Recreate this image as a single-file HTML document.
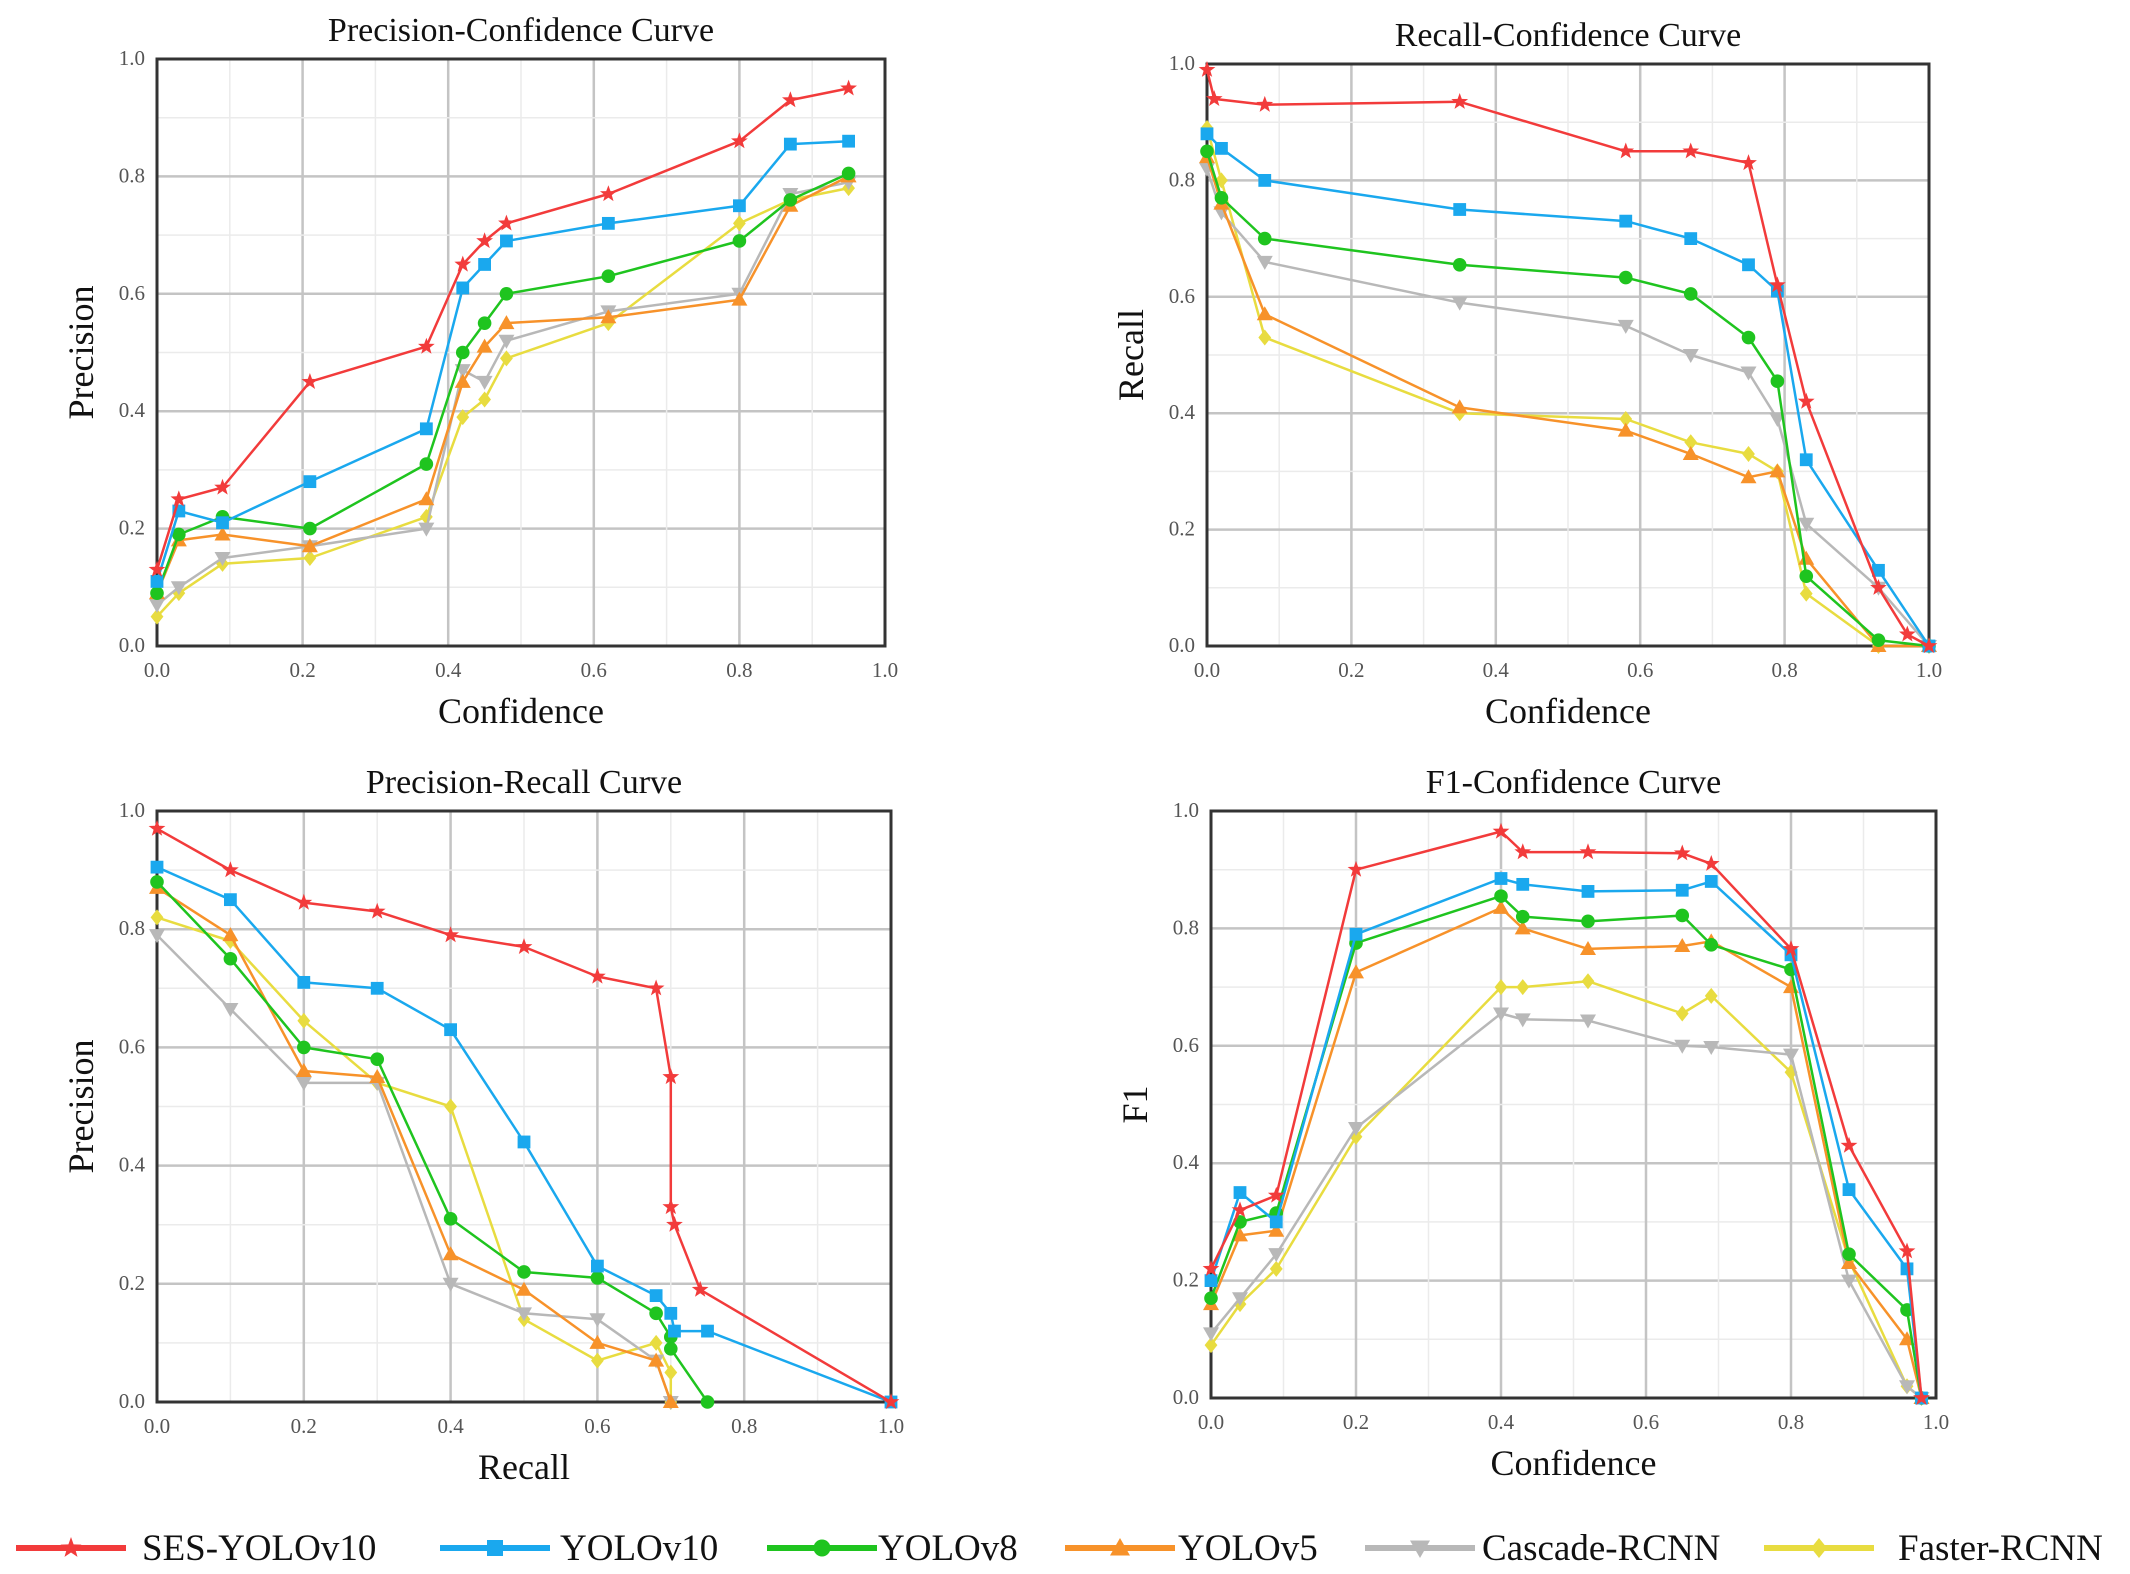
<!DOCTYPE html>
<html><head><meta charset="utf-8">
<style>
html,body{margin:0;padding:0;background:#fff;}
svg{display:block;font-family:"Liberation Serif",serif;}
</style></head>
<body>
<svg id="chart" width="2130" height="1574" viewBox="0 0 2130 1574" xmlns="http://www.w3.org/2000/svg">
  <g id="panels"></g>
  <g id="legend"></g>
</svg>
<script>
const seriesNames = ["SES-YOLOv10","YOLOv10","YOLOv8","YOLOv5","Cascade-RCNN","Faster-RCNN"];
const ticks = [0,0.2,0.4,0.6,0.8,1.0];
const tickLabels = ["0.0","0.2","0.4","0.6","0.8","1.0"];

// Precision-Confidence
const pcX = [0,0.03,0.09,0.21,0.37,0.42,0.45,0.48,0.62,0.8,0.87,0.95];
const pcRed = [0.13,0.25,0.27,0.45,0.51,0.65,0.69,0.72,0.77,0.86,0.93,0.95];
const pcBlue = [0.11,0.23,0.21,0.28,0.37,0.61,0.65,0.69,0.72,0.75,0.855,0.86];
const pcGreen = [0.09,0.19,0.22,0.20,0.31,0.50,0.55,0.60,0.63,0.69,0.76,0.805];
const pcOrange = [0.09,0.18,0.19,0.17,0.25,0.45,0.51,0.55,0.56,0.59,0.75,0.80];
const pcGray = [0.07,0.10,0.15,0.17,0.20,0.47,0.45,0.52,0.57,0.60,0.77,0.79];
const pcYellow = [0.05,0.09,0.14,0.15,0.22,0.39,0.42,0.49,0.55,0.72,0.76,0.78];

// Recall-Confidence
const rcXRed = [0,0.01,0.08,0.35,0.58,0.67,0.75,0.79,0.83,0.93,0.97,1.0];
const rcX = [0,0.02,0.08,0.35,0.58,0.67,0.75,0.79,0.83,0.93,1.0];
const rcRed = [0.99,0.94,0.93,0.935,0.85,0.85,0.83,0.62,0.42,0.10,0.02,0];
const rcBlue = [0.88,0.855,0.80,0.75,0.73,0.70,0.655,0.61,0.32,0.13,0];
const rcGreen = [0.85,0.77,0.70,0.655,0.633,0.605,0.53,0.455,0.12,0.01,0];
const rcOrange = [0.84,0.76,0.57,0.41,0.37,0.33,0.29,0.30,0.15,0.0,0];
const rcGray = [0.82,0.745,0.66,0.59,0.55,0.50,0.47,0.39,0.21,0.10,0];
const rcYellow = [0.89,0.80,0.53,0.40,0.39,0.35,0.33,0.30,0.09,0.0,0];

// Precision-Recall
const prXRed = [0,0.1,0.2,0.3,0.4,0.5,0.6,0.68,0.7,0.7,0.705,0.74,1.0];
const prRed = [0.97,0.90,0.845,0.83,0.79,0.77,0.72,0.70,0.55,0.33,0.30,0.19,0];
const prXBlue = [0,0.1,0.2,0.3,0.4,0.5,0.6,0.68,0.7,0.705,0.75,1.0];
const prBlue = [0.905,0.85,0.71,0.70,0.63,0.44,0.23,0.18,0.15,0.12,0.12,0];
const prXGreen = [0,0.1,0.2,0.3,0.4,0.5,0.6,0.68,0.7,0.7,0.75];
const prGreen = [0.88,0.75,0.60,0.58,0.31,0.22,0.21,0.15,0.11,0.09,0];
const prXOrange = [0,0.1,0.2,0.3,0.4,0.5,0.6,0.68,0.7];
const prOrange = [0.87,0.79,0.56,0.55,0.25,0.19,0.10,0.07,0];
const prXGray = [0,0.1,0.2,0.3,0.4,0.5,0.6,0.68,0.7];
const prGray = [0.79,0.665,0.54,0.54,0.20,0.15,0.14,0.07,0];
const prXYellow = [0,0.1,0.2,0.3,0.4,0.5,0.6,0.68,0.7,0.7];
const prYellow = [0.82,0.78,0.645,0.54,0.50,0.14,0.07,0.10,0.05,0];

// F1-Confidence
const f1X = [0,0.04,0.09,0.2,0.4,0.43,0.52,0.65,0.69,0.8,0.88,0.96,0.98];
const f1Red = [0.22,0.32,0.345,0.90,0.965,0.93,0.93,0.928,0.91,0.765,0.43,0.25,0];
const f1Blue = [0.20,0.35,0.30,0.79,0.885,0.875,0.863,0.865,0.88,0.755,0.355,0.22,0];
const f1Green = [0.17,0.30,0.315,0.775,0.855,0.82,0.812,0.822,0.772,0.73,0.245,0.15,0];
const f1Orange = [0.16,0.277,0.285,0.725,0.835,0.80,0.765,0.77,0.778,0.70,0.23,0.10,0];
const f1Gray = [0.11,0.17,0.245,0.46,0.655,0.645,0.643,0.60,0.598,0.585,0.20,0.02,0];
const f1Yellow = [0.09,0.16,0.22,0.445,0.70,0.70,0.71,0.655,0.685,0.555,0.235,0.02,0];

const colors = ["#f23b3b","#1aa8ee","#1fc41f","#f7922a","#b8b8b8","#e8dc40"];
const markers = ["star","square","circle","tri-up","tri-down","diamond"];
const NS = "http://www.w3.org/2000/svg";

function mk(tag, attrs, parent){
  const e = document.createElementNS(NS, tag);
  for (const k in attrs) e.setAttribute(k, attrs[k]);
  if (parent) parent.appendChild(e);
  return e;
}

function marker(g, type, x, y, c, s){
  let e;
  if (type==="star"){
    let pts=[];
    for(let i=0;i<10;i++){const r=i%2?s*0.45:s*1.1;const a=-Math.PI/2+i*Math.PI/5;pts.push((x+r*Math.cos(a)).toFixed(1)+","+(y+r*Math.sin(a)).toFixed(1));}
    e = mk("polygon",{points:pts.join(" "),fill:c},g);
  } else if (type==="square"){
    e = mk("rect",{x:x-s*0.8,y:y-s*0.8,width:s*1.6,height:s*1.6,fill:c},g);
  } else if (type==="circle"){
    e = mk("circle",{cx:x,cy:y,r:s*0.85,fill:c},g);
  } else if (type==="tri-up"){
    e = mk("polygon",{points:`${x},${y-s} ${x-s},${y+s*0.75} ${x+s},${y+s*0.75}`,fill:c},g);
  } else if (type==="tri-down"){
    e = mk("polygon",{points:`${x},${y+s} ${x-s},${y-s*0.75} ${x+s},${y-s*0.75}`,fill:c},g);
  } else {
    e = mk("polygon",{points:`${x},${y-s} ${x+s*0.8},${y} ${x},${y+s} ${x-s*0.8},${y}`,fill:c},g);
  }
  
  
}

const panels = [
  {name:"precision-confidence", title:"Precision-Confidence Curve", xl:"Confidence", yl:"Precision", L:157,T:59,W:728,H:587,
   xs:[pcX,pcX,pcX,pcX,pcX,pcX], ys:[pcRed,pcBlue,pcGreen,pcOrange,pcGray,pcYellow]},
  {name:"recall-confidence", title:"Recall-Confidence Curve", xl:"Confidence", yl:"Recall", L:1207,T:64,W:722,H:582,
   xs:[rcXRed,rcX,rcX,rcX,rcX,rcX], ys:[rcRed,rcBlue,rcGreen,rcOrange,rcGray,rcYellow]},
  {name:"precision-recall", title:"Precision-Recall Curve", xl:"Recall", yl:"Precision", L:157,T:811,W:734,H:591,
   xs:[prXRed,prXBlue,prXGreen,prXOrange,prXGray,prXYellow], ys:[prRed,prBlue,prGreen,prOrange,prGray,prYellow]},
  {name:"f1-confidence", title:"F1-Confidence Curve", xl:"Confidence", yl:"F1", L:1211,T:811,W:725,H:587,
   xs:[f1X,f1X,f1X,f1X,f1X,f1X], ys:[f1Red,f1Blue,f1Green,f1Orange,f1Gray,f1Yellow]}
];

const root = document.getElementById("panels");
panels.forEach(p=>{
  const g = mk("g",{},root);
  
  
  const sx = v => p.L + v*p.W;
  const sy = v => p.T + p.H - v*p.H;
  for(let i=1;i<10;i++){
    const v=i/10; const major = i%2===0;
    const gl1 = mk("line",{x1:sx(v),x2:sx(v),y1:p.T,y2:p.T+p.H,stroke:major?"#c4c4c4":"#ebebeb","stroke-width":major?2.5:1.5},g);
    
    
    const gl2 = mk("line",{x1:p.L,x2:p.L+p.W,y1:sy(v),y2:sy(v),stroke:major?"#c4c4c4":"#ebebeb","stroke-width":major?2.5:1.5},g);
    
    
  }
  const frame = mk("rect",{x:p.L,y:p.T,width:p.W,height:p.H,fill:"none",stroke:"#333","stroke-width":3},g);
  
  
  ticks.forEach((t,i)=>{
    const xt = mk("text",{x:sx(t),y:p.T+p.H+31,"text-anchor":"middle","font-size":21,fill:"#555"},g);
    xt.textContent = tickLabels[i];
    
    
    const yt = mk("text",{x:p.L-12,y:sy(t)+6,"text-anchor":"end","font-size":21,fill:"#555"},g);
    yt.textContent = tickLabels[i];
    
    
  });
  const tt = mk("text",{x:p.L+p.W/2,y:p.T-18,"text-anchor":"middle","font-size":34,fill:"#111"},g);
  tt.textContent = p.title;
  
  
  const xl = mk("text",{x:p.L+p.W/2,y:p.T+p.H+77,"text-anchor":"middle","font-size":36,fill:"#111"},g);
  xl.textContent = p.xl;
  
  
  const yx = p.L-64, yy = p.T+p.H/2;
  const yl = mk("text",{x:yx,y:yy,"text-anchor":"middle","font-size":36,fill:"#111",transform:`rotate(-90 ${yx} ${yy})`},g);
  yl.textContent = p.yl;
  
  
  for(let si=5;si>=0;si--){
    const sg = mk("g",{},g);
    
    
    const xs=p.xs[si], ys=p.ys[si];
    const pts = xs.map((x,i)=>sx(x).toFixed(1)+","+sy(ys[i]).toFixed(1)).join(" ");
    const pl = mk("polyline",{points:pts,fill:"none",stroke:colors[si],"stroke-width":2.5,"stroke-linejoin":"round"},sg);
    
    
    xs.forEach((x,i)=>marker(sg,markers[si],sx(x),sy(ys[i]),colors[si],8));
  }
});

const legX = [16,440,767,1065,1365,1764];
const legTextX = [142,560,878,1178,1482,1898];
const lg = document.getElementById("legend");
seriesNames.forEach((n,i)=>{
  const g = mk("g",{},lg);
  
  
  const y=1548;
  const ln = mk("line",{x1:legX[i],x2:legX[i]+110,y1:y,y2:y,stroke:colors[i],"stroke-width":6},g);
  
  
  marker(g,markers[i],legX[i]+55,y,colors[i],10);
  const t = mk("text",{x:legTextX[i],y:y+12,"font-size":37,fill:"#111"},g);
  t.textContent = n;
  
  
});
</script>
</body></html>
